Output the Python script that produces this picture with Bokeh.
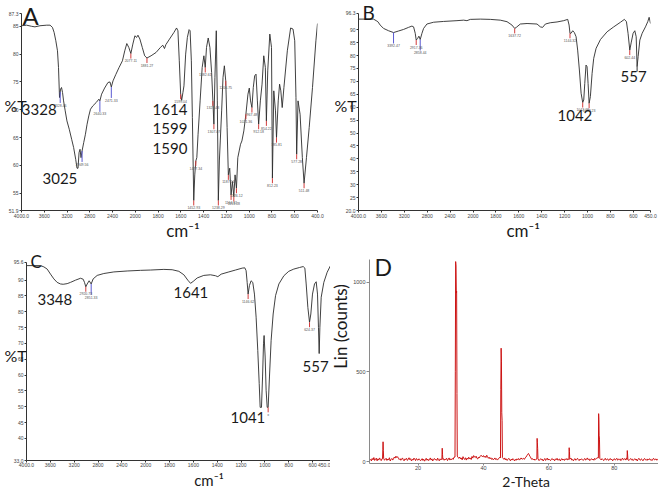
import numpy as np
from bokeh.plotting import figure
from bokeh.models import Range1d, FixedTicker, CustomJSTickFormatter, Label, ColumnDataSource
from bokeh.layouts import column, row
from bokeh.embed import file_html
from bokeh.resources import INLINE
from bokeh.core.properties import value

# ---------------- data ----------------
# Panel A : FTIR spectrum (wavenumber cm-1, %T)
a_wn = [4000, 3911, 3823, 3764, 3675, 3557, 3498, 3456, 3427, 3397,
        3368, 3350, 3332, 3314, 3297, 3279, 3261, 3232, 3202, 3161,
        3119, 3084, 3048, 3025, 3007, 2989, 2972, 2954, 2936, 2907,
        2877, 2848, 2818, 2788, 2747, 2688, 2641, 2623, 2593, 2540,
        2481, 2446, 2422, 2392, 2345, 2286, 2227, 2186, 2150, 2115,
        2079, 2044, 2008, 1989, 1977, 1960, 1939, 1918, 1898, 1862,
        1818, 1780, 1759, 1744, 1732, 1700, 1661, 1638, 1626, 1614,
        1602, 1593, 1582, 1573, 1558, 1543, 1528, 1519, 1508, 1499,
        1487, 1478, 1469, 1460, 1449, 1431, 1413, 1398, 1386, 1375,
        1360, 1345, 1330, 1319, 1310, 1301, 1289, 1280, 1271, 1262,
        1254, 1242, 1230, 1218, 1206, 1194, 1183, 1171, 1159, 1147,
        1135, 1124, 1112, 1100, 1088, 1076, 1064, 1047, 1029, 1011,
        999, 988, 976, 964, 952, 940, 928, 917, 902, 887,
        872, 858, 849, 837, 819, 804, 796, 784, 769, 760,
        745, 733, 722, 710, 695, 665, 636, 615, 600, 589,
        583, 571, 553, 533, 518, 497, 473, 444, 414, 400]
a_t = [85.1, 85.2, 85.0, 84.9, 85.1, 85.2, 85.2, 84.8, 83.9, 82.4,
       80.6, 77.6, 72.2, 73.7, 74.0, 73.1, 71.6, 69.8, 68.0, 66.5,
       64.7, 63.2, 61.1, 59.5, 59.5, 62.3, 62.9, 61.4, 62.6, 64.1,
       65.6, 67.4, 68.9, 70.1, 70.7, 71.3, 71.9, 71.6, 72.8, 73.9,
       74.9, 75.0, 74.1, 75.2, 76.3, 77.6, 78.8, 80.6, 81.9, 81.2,
       80.1, 81.8, 83.3, 83.0, 83.4, 82.7, 81.2, 79.7, 79.3, 79.7,
       80.3, 81.2, 81.6, 81.0, 81.7, 82.7, 83.9, 84.7, 84.2, 78.8,
       72.8, 71.7, 73.1, 74.3, 80.0, 83.0, 84.4, 84.2, 78.8, 68.6,
       53.7, 58.3, 60.8, 61.4, 65.6, 71.6, 77.6, 79.7, 77.6, 81.2,
       82.9, 81.2, 76.7, 71.6, 67.4, 75.8, 84.2, 71.6, 53.7, 60.8,
       64.4, 69.8, 75.8, 77.9, 75.2, 66.8, 58.3, 59.5, 54.7, 57.1,
       54.4, 58.3, 55.9, 61.4, 62.6, 63.8, 64.4, 66.2, 69.2, 72.8,
       73.9, 71.6, 70.4, 74.0, 76.1, 76.4, 71.6, 67.4, 71.6, 74.6,
       79.7, 77.6, 68.0, 77.0, 83.6, 81.2, 57.7, 73.4, 69.8, 65.0,
       71.6, 74.6, 73.4, 70.4, 74.0, 80.6, 84.7, 84.5, 82.4, 72.2,
       62.0, 71.6, 69.2, 61.4, 56.8, 61.4, 66.8, 74.0, 82.4, 85.5]
a_mark_wn = [3320, 2936, 2623, 2422, 2079, 1898, 1602, 1487, 1469, 1386, 1319, 1310, 1271,
             1206, 1183, 1159, 1135, 1112, 1029, 976, 917, 849, 796, 760, 583, 518]
a_mark_txt = ["3328.46", "2949.56", "2640.33", "2471.33", "2077.11", "1881.27", "1599.04",
              "1452.93", "1477.34", "1382.61", "1321.43", "1307.07", "1238.29", "1206.75",
              "1187.54", "1164.61", "1151.28", "1126.12", "1021.36", "967.48", "912.18",
              "854.22", "812.23", "785.81", "577.28", "511.48"]
a_mark_col = ["blue"] * 4 + ["red"] * 22

# Panel B : FTIR spectrum
b_wn = [4000, 3738, 3691, 3662, 3621, 3563, 3475, 3388, 3301, 3213,
        3126, 3067, 3038, 3009, 2992, 2968, 2945, 2922, 2892, 2863,
        2805, 2688, 2514, 2280, 2164, 2106, 2047, 1936, 1849, 1762,
        1703, 1660, 1636, 1622, 1587, 1528, 1441, 1412, 1392, 1368,
        1325, 1266, 1208, 1173, 1161, 1153, 1144, 1129, 1115, 1100,
        1086, 1071, 1056, 1042, 1033, 1024, 1013, 1004, 995, 986,
        975, 960, 946, 925, 887, 829, 771, 712, 678, 660,
        646, 631, 619, 602, 587, 575, 567, 558, 543, 523,
        494, 474, 462, 450]
b_t = [94.1, 94.1, 93.5, 93.1, 91.8, 90.5, 89.6, 88.9, 89.5, 90.1,
       90.9, 91.4, 91.1, 88.6, 86.0, 86.6, 87.5, 86.2, 88.6, 90.5,
       92.2, 92.9, 93.2, 93.5, 93.7, 93.5, 94.0, 94.1, 94.0, 93.7,
       93.1, 91.8, 90.5, 90.9, 92.2, 92.4, 92.2, 91.1, 90.9, 92.2,
       92.7, 93.0, 93.5, 94.0, 91.8, 88.6, 88.6, 89.6, 88.9, 87.3,
       82.1, 74.4, 65.4, 61.8, 62.8, 69.2, 76.3, 75.7, 69.2, 61.5,
       64.1, 73.1, 78.9, 82.8, 86.2, 89.2, 91.1, 92.9, 94.0, 93.1,
       88.6, 82.1, 84.9, 88.6, 89.6, 87.3, 75.7, 79.6, 86.0, 88.6,
       91.1, 93.1, 94.8, 92.4]
b_mark_wn = [3388, 2992, 2922, 1636, 1153, 1042, 986, 631, 567]
b_mark_txt = ["3392.47", "2917.36", "2858.44", "1637.72", "1144.32", "1042.18", "1009.23", "602.44", ""]
b_mark_col = ["blue", "red", "blue", "red", "red", "red", "red", "red", "dark"]

# Panel C : FTIR spectrum
c_wn = [4000, 3765, 3709, 3653, 3597, 3541, 3486, 3430, 3385, 3318,
        3262, 3178, 3094, 3049, 3027, 3005, 2982, 2949, 2915, 2882,
        2814, 2703, 2535, 2311, 2088, 1960, 1848, 1778, 1722, 1680,
        1647, 1624, 1602, 1568, 1513, 1457, 1415, 1395, 1367, 1303,
        1247, 1191, 1169, 1158, 1149, 1141, 1130, 1116, 1102, 1088,
        1074, 1060, 1048, 1040, 1029, 1020, 1012, 1007, 998, 990,
        981, 973, 962, 948, 931, 911, 883, 841, 800, 758,
        710, 679, 665, 654, 640, 626, 615, 601, 584, 570,
        559, 551, 545, 539, 528, 506, 478, 450]
c_t = [94.6, 94.6, 94.2, 93.5, 91.9, 90.4, 89.3, 88.8, 88.7, 88.9,
       89.3, 90.0, 90.6, 90.3, 89.3, 87.9, 88.8, 89.8, 88.8, 90.4,
       91.5, 92.1, 92.6, 92.9, 93.1, 93.2, 93.4, 93.3, 92.8, 91.7,
       90.0, 89.0, 89.6, 90.7, 91.5, 91.7, 91.4, 91.1, 91.9, 92.6,
       93.2, 93.8, 93.9, 93.0, 89.3, 85.6, 88.3, 89.8, 89.3, 85.6,
       78.3, 67.8, 57.3, 49.8, 49.8, 59.4, 69.9, 72.5, 65.7, 55.2,
       49.8, 49.8, 59.4, 71.0, 79.3, 85.1, 88.8, 91.4, 92.8, 93.5,
       94.0, 94.3, 93.8, 88.8, 81.4, 76.7, 79.3, 85.6, 88.8, 89.5,
       85.6, 75.1, 66.8, 75.1, 84.6, 89.3, 92.5, 94.6]
c_mark_wn = [3005, 2915, 1141, 973, 626]
c_mark_txt = ["2920.73", "2851.33", "1146.62", "±", "624.37"]
c_mark_col = ["red", "blue", "red", "red", "red"]

ir_ticks_a = [4000, 3600, 3200, 2800, 2400, 2000, 1800, 1600, 1400, 1200, 1000, 800, 600, 400]
ir_ticks_bc = [4000, 3600, 3200, 2800, 2400, 2000, 1800, 1600, 1400, 1200, 1000, 800, 600, 450]
a_yticks = [51.9, 55, 60, 65, 70, 75, 80, 85, 87.3]
b_yticks = [20.0, 25, 30, 35, 40, 45, 50, 55, 60, 65, 70, 75, 80, 85, 90, 96.3]
c_yticks = [33.0, 40, 45, 50, 55, 60, 65, 70, 75, 80, 85, 90, 95.6]

# Panel D : XRD pattern (2-theta, counts), scan grid 5.5 .. 93.5 step 0.25
xrd_start, xrd_step = 5.5, 0.25
xrd_base = [14, 3, 17, 9, 22, 6, 12, 19, 4, 15, 8, 20, 11, 5, 16, 10, 24, 7, 13, 18,
            6, 14, 9, 21, 3, 12, 17, 8, 15, 25, 19, 30, 22, 27, 18, 11, 16, 7, 13, 20,
            9, 4, 15, 11, 18, 6, 13, 21, 10, 16, 3, 12, 8, 19, 14, 5, 17, 10, 7, 15,
            12, 4, 9, 16, 6, 13, 2, 10, 18, 7, 14, 5, 11, 20, 8, 15, 3, 12, 17, 9,
            13, 6, 19, 10, 4, 15, 9, 22, 12, 16, 7, 14, 11, 18, 5, 13, 20, 8, 15, 10,
            17, 12, 24, 35, 28, 40, 30, 22, 18, 25, 14, 20, 9, 27, 16, 12, 21, 8, 19, 13,
            24, 15, 20, 11, 28, 19, 33, 26, 22, 30, 18, 14, 25, 20, 29, 35, 31, 26, 33, 24,
            30, 22, 35, 27, 18, 24, 15, 21, 12, 17, 9, 14, 20, 11, 16, 8, 13, 19, 24, 30,
            35, 25, 18, 12, 20, 9, 15, 6, 13, 18, 10, 4, 14, 8, 16, 11, 3, 12, 7, 15,
            10, 17, 8, 13, 20, 14, 14, 18, 12, 20, 25, 32, 40, 45, 36, 28, 20, 12, 16, 9,
            14, 7, 12, 18, 9, 15, 5, 11, 16, 8, 13, 3, 10, 17, 6, 12, 19, 8, 14, 10,
            5, 13, 17, 9, 12, 4, 15, 10, 18, 7, 11, 14, 3, 12, 16, 8, 13, 6, 15, 10,
            17, 9, 12, 6, 14, 19, 8, 11, 4, 13, 16, 7, 12, 18, 10, 5, 14, 9, 15, 11,
            6, 13, 17, 8, 12, 20, 10, 15, 5, 11, 16, 9, 14, 7, 18, 12, 16, 22, 18, 25,
            20, 14, 9, 16, 11, 5, 13, 18, 8, 12, 15, 6, 10, 17, 9, 13, 4, 11, 16, 8,
            12, 18, 7, 14, 10, 15, 5, 12, 19, 9, 13, 16, 8, 20, 11, 14, 6, 12, 17, 9,
            13, 5, 11, 16, 8, 14, 3, 12, 18, 10, 7, 15, 11, 4, 13, 17, 9, 12, 6, 14,
            10, 16, 8, 12, 5, 13, 18, 9, 11, 15, 7, 12, 10]
xrd_peak_theta = [9.15, 9.25, 9.32, 9.4, 9.5,
                  27.3, 27.4, 27.5, 27.58,
                  31.3, 31.4, 31.5, 31.6, 31.7, 31.8, 31.9, 32.0,
                  45.2, 45.3, 45.4, 45.5, 45.6, 45.7, 45.8,
                  56.32, 56.4, 56.48, 56.56, 56.66,
                  66.12, 66.2, 66.28, 66.38,
                  75.12, 75.2, 75.28, 75.36, 75.46, 75.56,
                  83.88, 83.96, 84.04, 84.14]
xrd_peak_counts = [15, 65, 110, 60, 18,
                   14, 74, 38, 12,
                   25, 500, 1115, 1090, 940, 950, 380, 30,
                   20, 400, 632, 560, 272, 230, 22,
                   14, 129, 105, 74, 15,
                   12, 77, 55, 12,
                   20, 267, 235, 147, 125, 16,
                   12, 61, 42, 10]
xrd_ticks_x = [20, 40, 60, 80]
xrd_ticks_y = [0, 500, 1000]

# ---------------- helpers ----------------
LBL_FONT = "Lato"
TICK_FONT = "Liberation Sans"
INK = "#1a1a1a"
MARK_COLORS = {"blue": "#5a5ad2", "red": "#d23c3c", "dark": "#333333"}


def P(w):
    """FTIR instrument axis: scale is halved above 2000 cm-1."""
    w = np.asarray(w, dtype=float)
    return np.where(w > 2000, 2000 + (w - 2000) / 2.0, w)


def Px(w):
    return float(P(w))


def set_safe(obj, attr, val, fallback):
    try:
        setattr(obj, attr, val)
    except Exception:
        setattr(obj, attr, fallback)


def style_axis(ax, color="#333333", size="5px", tick_out=2, standoff=1):
    ax.axis_line_color = color
    ax.axis_line_width = 1
    ax.major_tick_line_color = color
    ax.major_tick_in = 0
    ax.major_tick_out = tick_out
    ax.minor_tick_line_color = None
    ax.major_label_text_font = TICK_FONT
    ax.major_label_text_font_size = size
    ax.major_label_text_color = "#444444"
    ax.major_label_standoff = standoff


def base_fig(width, height, xr, ylo, yhi, bl, br, y_hi_px, y_lo_px):
    """Frame spans from the figure top (0) down to y_lo_px; yhi sits at y_hi_px."""
    unit = (yhi - ylo) / (y_lo_px - y_hi_px)
    p = figure(width=width, height=height, output_backend="svg", toolbar_location=None,
               x_range=Range1d(*xr), y_range=Range1d(ylo, yhi + y_hi_px * unit),
               min_border_left=bl, min_border_right=br, min_border_top=0,
               min_border_bottom=height - y_lo_px)
    p.xgrid.visible = False
    p.ygrid.visible = False
    p.outline_line_color = None
    p.background_fill_color = "white"
    p.border_fill_color = "white"
    return p, unit


def strip(width, height):
    """A plain text strip whose data units are pixels (y measured from its bottom)."""
    s = figure(width=width, height=height, output_backend="svg", toolbar_location=None,
               x_range=Range1d(0, width), y_range=Range1d(0, height),
               x_axis_type=None, y_axis_type=None,
               min_border_left=0, min_border_right=0, min_border_top=0, min_border_bottom=0)
    s.outline_line_color = None
    s.background_fill_color = "white"
    s.border_fill_color = "white"
    return s


def ftir(width, height, wn_end, ylo, yhi, yticks, xticks, bl, br, y_hi_px, y_lo_px,
         pct_standoff, x_standoff=1):
    p, unit = base_fig(width, height, (Px(4000), Px(wn_end)), ylo, yhi, bl, br, y_hi_px, y_lo_px)
    p.xaxis.ticker = FixedTicker(ticks=[float(v) for v in P(xticks)])
    p.xaxis.formatter = CustomJSTickFormatter(code="""
        const w = Math.round(tick > 2000 ? 2*tick - 2000 : tick);
        return (w == 4000 || w == 400 || w == 450) ? w.toFixed(1) : String(w);""")
    p.yaxis.ticker = FixedTicker(ticks=yticks)
    p.yaxis.formatter = CustomJSTickFormatter(args=dict(lo=ylo, hi=yhi), code="""
        return (Math.abs(tick - lo) < 1e-6 || Math.abs(tick - hi) < 1e-6) ? tick.toFixed(1) : tick.toFixed(0);""")
    style_axis(p.xaxis[0], standoff=x_standoff)
    style_axis(p.yaxis[0])
    ya = p.yaxis[0]
    ya.bounds = (ylo, yhi)
    ya.axis_label = "%T"
    ya.axis_label_orientation = "horizontal"
    ya.axis_label_text_font = LBL_FONT
    ya.axis_label_text_font_size = "16px"
    ya.axis_label_text_font_style = "normal"
    ya.axis_label_text_color = INK
    set_safe(ya, "axis_label_standoff", pct_standoff, 0)
    return p, unit


def spectrum(p, wn, t):
    p.line(P(wn), t, line_color="#2b2b2b", line_width=0.9)


def markers(p, wn, txt, col, curve_wn, curve_t, unit):
    cw = np.asarray(curve_wn, float)
    ct = np.asarray(curve_t, float)
    order = np.argsort(cw)
    tv = np.interp(np.asarray(wn, float), cw[order], ct[order])
    length = np.array([11 if c == "blue" else 5 for c in col]) * unit
    src = ColumnDataSource(dict(x=P(wn), ya=tv, yb=tv - length, ty=tv - length - 0.6 * unit,
                                c=[MARK_COLORS[c] for c in col], t=txt))
    p.segment(x0="x", y0="ya", x1="x", y1="yb", line_color="c", line_width=1, source=src)
    p.text(x="x", y="ty", text="t", text_font=value(TICK_FONT), text_font_size=value("3.5px"),
           text_color="#555555", text_align="center", text_baseline="top", source=src)


def label(p, x, y, text, size, align="left", angle=0.0):
    p.add_layout(Label(x=x, y=y, text=text, text_font=LBL_FONT, text_font_size=size,
                       text_align=align, text_baseline="middle", angle=angle, text_color=INK))


# ---------------- panel A ----------------
pA, uA = ftir(330, 220, 400, 51.9, 87.3, a_yticks, ir_ticks_a, 21, 13, 13, 210, -21)
spectrum(pA, a_wn, a_t)
markers(pA, a_mark_wn, a_mark_txt, a_mark_col, a_wn, a_t, uA)
label(pA, Px(3982), 86.9, "A", "24px")
label(pA, Px(3995), 70.0, "3328", "15px")
label(pA, Px(3631), 57.7, "3025", "15px")
label(pA, Px(1849), 70.1, "1614", "15px")
label(pA, Px(1849), 66.7, "1599", "15px")
label(pA, Px(1849), 63.1, "1590", "15px")
sA = strip(330, 30)
label(sA, 180, 19.6, "cm⁻¹", "17px", align="center")

# ---------------- panel B ----------------
pB, uB = ftir(328, 220, 450, 20.0, 96.3, b_yticks, ir_ticks_bc, 28, 8, 13, 211, -14)
spectrum(pB, b_wn, b_t)
markers(pB, b_mark_wn, b_mark_txt, b_mark_col, b_wn, b_t, uB)
label(pB, Px(3930), 96.7, "B", "19px")
label(pB, Px(1262), 56.6, "1042", "15px")
label(pB, Px(712), 72.0, "557", "15px")
sB = strip(328, 30)
label(sB, 185, 19.6, "cm⁻¹", "17px", align="center")

# ---------------- panel C ----------------
pC, uC = ftir(330, 219, 450, 33.0, 95.6, c_yticks, ir_ticks_bc, 26, 0, 12, 211, -16, x_standoff=0)
spectrum(pC, c_wn, c_t)
markers(pC, c_mark_wn, c_mark_txt, c_mark_col, c_wn, c_t, uC)
label(pC, Px(3933), 95.9, "C", "17px")
label(pC, Px(3816), 83.9, "3348", "15px")
label(pC, Px(1767), 86.1, "1641", "15px")
label(pC, Px(1289), 46.7, "1041", "15px")
label(pC, Px(685), 62.8, "557", "15px")
sC = strip(330, 20)
label(sC, 198, 10, "cm⁻¹", "15px", align="center")

# ---------------- panel D ----------------
theta = xrd_start + xrd_step * np.arange(len(xrd_base))
base = np.asarray(xrd_base, float)
pk_t = np.asarray(xrd_peak_theta, float)
pk_c = np.asarray(xrd_peak_counts, float)
keep = np.array([np.min(np.abs(pk_t - t)) > 0.12 for t in theta])
xx = np.concatenate([theta[keep], pk_t])
yy = np.concatenate([base[keep], pk_c])
order = np.argsort(xx, kind="stable")

# y: 1000 counts at 32 px, 0 counts at 213 px below the top; frame bottom at 215 px
d_unit = 1000.0 / 181.0
d_lo = -2 * d_unit
pD, _ = base_fig(308, 222, (5.17, 93.5), d_lo, 1000.0, 18, 0, 32, 215)
pD.xaxis.ticker = FixedTicker(ticks=xrd_ticks_x)
pD.yaxis.ticker = FixedTicker(ticks=xrd_ticks_y)
style_axis(pD.xaxis[0], color="#8a8a8a", size="5.5px", standoff=0)
style_axis(pD.yaxis[0], color="#8a8a8a", size="5.5px", tick_out=3)
pD.yaxis[0].bounds = (d_lo, 1125)
pD.line(xx[order], yy[order], line_color="#cc1414", line_width=1)
label(pD, 6.69, 1086, "D", "23px")
sD = strip(308, 17)
label(sD, 167, 8.5, "2-Theta", "14px", align="center")
sDL = strip(20, 239)
label(sDL, 10, 163, "Lin (counts)", "17px", align="center", angle=np.pi / 2)

layout = column(
    row(column(pA, sA), column(pB, sB)),
    row(column(pC, sC), row(sDL, column(pD, sD))),
)
open("out.html", "w").write(file_html(layout, INLINE))
